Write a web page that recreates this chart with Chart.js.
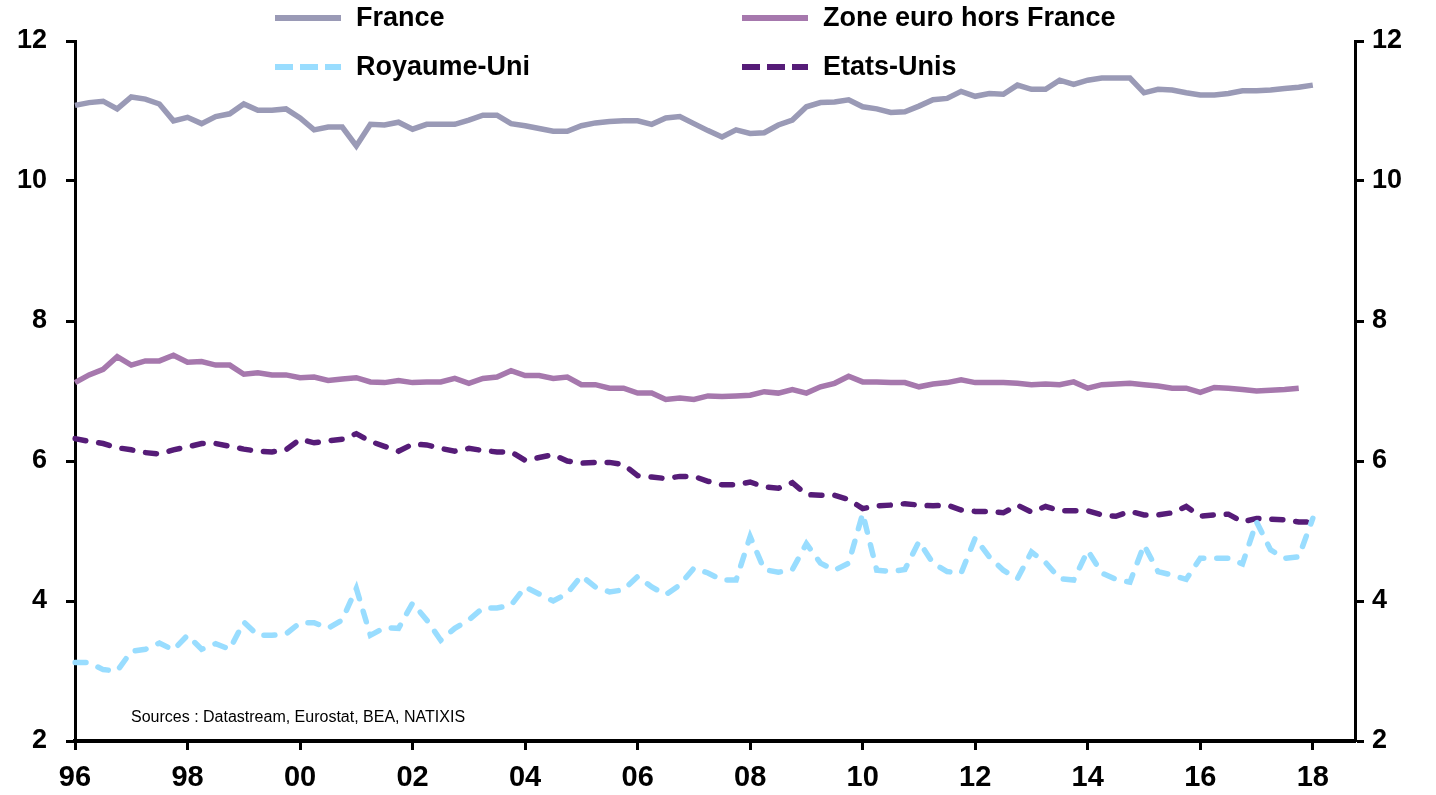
<!DOCTYPE html>
<html>
<head>
<meta charset="utf-8">
<script src="https://cdn.jsdelivr.net/npm/chart.js@4/dist/chart.umd.min.js"></script>
<style>
  html, body { margin: 0; padding: 0; background: #fff; }
  #wrap { position: relative; width: 1436px; height: 795px; }
</style>
</head>
<body>
<div id="wrap"><canvas id="chart" width="1436" height="795"></canvas></div>
<script>
// quarters 96T1 .. 18T4, a tick label every 2 years
const years = ["96","97","98","99","00","01","02","03","04","05","06","07","08","09","10","11","12","13","14","15","16","17","18"];
const yearTicks = ["96","98","00","02","04","06","08","10","12","14","16","18"];
const quarters = [];
years.forEach(y => { for (let q = 1; q <= 4; q++) quarters.push(y + "T" + q); });

const france = [11.08,11.12,11.14,11.03,11.20,11.17,11.10,10.86,10.91,10.82,10.92,10.96,11.10,11.01,11.01,11.03,
  10.90,10.73,10.77,10.77,10.50,10.81,10.80,10.84,10.74,10.81,10.81,10.81,10.87,10.94,10.94,10.82,
  10.79,10.75,10.71,10.71,10.79,10.83,10.85,10.86,10.86,10.81,10.90,10.92,10.82,10.72,10.63,10.73,
  10.68,10.69,10.80,10.87,11.06,11.12,11.13,11.16,11.06,11.03,10.98,10.99,11.07,11.16,11.18,11.28,
  11.21,11.25,11.24,11.37,11.31,11.31,11.44,11.38,11.44,11.47,11.47,11.47,11.26,11.31,11.30,11.26,
  11.23,11.23,11.25,11.29,11.29,11.30,11.32,11.34,11.37];

const zoneEuro = [7.12,7.23,7.31,7.49,7.37,7.43,7.43,7.51,7.41,7.42,7.37,7.37,7.24,7.26,7.23,7.23,
  7.19,7.20,7.15,7.17,7.19,7.13,7.12,7.15,7.12,7.13,7.13,7.18,7.11,7.18,7.20,7.29,
  7.22,7.22,7.18,7.20,7.09,7.09,7.04,7.04,6.97,6.97,6.88,6.90,6.88,6.93,6.92,6.93,
  6.94,6.99,6.97,7.02,6.97,7.06,7.11,7.21,7.13,7.13,7.12,7.12,7.06,7.10,7.12,7.16,
  7.12,7.12,7.12,7.11,7.09,7.10,7.09,7.13,7.04,7.09,7.10,7.11,7.09,7.07,7.04,7.04,
  6.98,7.05,7.04,7.02,7.00,7.01,7.02,7.04];

const royaumeUni = [3.12,3.12,3.02,3.00,3.28,3.31,3.40,3.30,3.51,3.31,3.39,3.31,3.70,3.51,3.51,3.53,
  3.69,3.69,3.61,3.73,4.18,3.51,3.62,3.61,3.97,3.73,3.44,3.61,3.73,3.90,3.90,3.94,
  4.20,4.10,4.00,4.11,4.36,4.20,4.13,4.16,4.35,4.20,4.09,4.23,4.47,4.40,4.30,4.30,
  4.92,4.45,4.41,4.45,4.82,4.54,4.44,4.54,5.25,4.44,4.42,4.45,4.85,4.54,4.42,4.40,
  4.90,4.63,4.44,4.32,4.70,4.55,4.32,4.30,4.72,4.40,4.31,4.27,4.80,4.42,4.37,4.31,
  4.61,4.61,4.61,4.53,5.13,4.73,4.61,4.63,5.18];

const etatsUnis = [6.32,6.28,6.25,6.19,6.16,6.12,6.10,6.16,6.20,6.25,6.25,6.21,6.17,6.14,6.13,6.16,
  6.31,6.26,6.29,6.31,6.39,6.28,6.21,6.14,6.24,6.23,6.18,6.14,6.18,6.15,6.13,6.13,
  6.01,6.05,6.09,6.00,5.97,5.98,5.98,5.95,5.79,5.77,5.75,5.78,5.78,5.71,5.66,5.66,
  5.70,5.63,5.61,5.69,5.52,5.51,5.51,5.45,5.32,5.36,5.37,5.39,5.37,5.36,5.37,5.30,
  5.28,5.28,5.26,5.37,5.27,5.35,5.29,5.29,5.29,5.23,5.21,5.28,5.23,5.23,5.26,5.35,
  5.21,5.23,5.24,5.13,5.18,5.17,5.16,5.13,5.13];

const sourceText = "Sources : Datastream, Eurostat, BEA, NATIXIS";

// legend in two columns at the top, source note inside the plot
const topLegend = {
  id: "topLegend",
  afterDraw(chart) {
    const ctx = chart.ctx;
    const cols = [275, 742];
    const rows = [18, 67];
    ctx.save();
    chart.data.datasets.forEach((ds, i) => {
      const x = cols[i % 2], y = rows[Math.floor(i / 2)];
      ctx.strokeStyle = ds.borderColor;
      ctx.lineWidth = 6;
      ctx.lineCap = "butt";
      ctx.setLineDash(ds.borderDash ? [18, 7] : []);
      ctx.beginPath();
      ctx.moveTo(x, y);
      ctx.lineTo(x + 66, y);
      ctx.stroke();
      ctx.setLineDash([]);
      ctx.fillStyle = "#000";
      ctx.font = "bold 27px 'Liberation Sans', Arial, sans-serif";
      ctx.textBaseline = "middle";
      ctx.fillText(ds.label, x + 81, y + 1);
    });
    ctx.font = "16px 'Liberation Sans', Arial, sans-serif";
    ctx.textBaseline = "middle";
    ctx.fillText(sourceText, 131, 718);
    ctx.restore();
  }
};

const ctx = document.getElementById("chart").getContext("2d");
const tickFont = { family: "'Liberation Sans', Arial, sans-serif", weight: "bold", size: 27 };

new Chart(ctx, {
  type: "line",
  data: {
    labels: quarters,
    datasets: [
      { label: "France", data: france, borderColor: "#9a9ab6", borderWidth: 5.5 },
      { label: "Zone euro hors France", data: zoneEuro, borderColor: "#a678ad", borderWidth: 5.5 },
      { label: "Royaume-Uni", data: royaumeUni, borderColor: "#99ddff", borderWidth: 5.5,
        borderDash: [11, 13], borderCapStyle: "round" },
      { label: "Etats-Unis", data: etatsUnis, borderColor: "#561c78", borderWidth: 5.5,
        borderDash: [11, 13], borderCapStyle: "round" }
    ]
  },
  options: {
    responsive: false,
    animation: false,
    layout: { padding: { top: 41, left: 0, right: 0, bottom: 0 } },
    elements: { point: { radius: 0 }, line: { tension: 0 } },
    plugins: { legend: { display: false }, tooltip: { enabled: false } },
    scales: {
      x: {
        offset: false,
        border: { color: "#000", width: 4 },
        grid: {
          drawOnChartArea: false,
          tickLength: 9,
          tickWidth: 3,
          tickColor: c => (c.index % 8 === 0 ? "#000" : "rgba(0,0,0,0)")
        },
        ticks: {
          autoSkip: false,
          maxRotation: 0,
          padding: 11,
          color: "#000",
          font: { family: "'Liberation Sans', Arial, sans-serif", weight: "bold", size: 29 },
          callback: (v, i) => (i % 8 === 0 ? yearTicks[i / 8] : "")
        },
        afterFit: s => { s.height = 54; }
      },
      y: {
        position: "left",
        min: 2, max: 12,
        border: { color: "#000", width: 3 },
        grid: { drawOnChartArea: false, tickLength: 9, tickWidth: 3, tickColor: "#000" },
        ticks: { stepSize: 2, padding: 19, color: "#000", font: tickFont },
        afterFit: s => { s.width = 75; }
      },
      y2: {
        position: "right",
        min: 2, max: 12,
        border: { color: "#000", width: 3 },
        grid: { drawOnChartArea: false, tickLength: 9, tickWidth: 3, tickColor: "#000" },
        ticks: { stepSize: 2, padding: 8, color: "#000", font: tickFont },
        afterFit: s => { s.width = 81; }
      }
    }
  },
  plugins: [topLegend]
});
</script>
</body>
</html>
